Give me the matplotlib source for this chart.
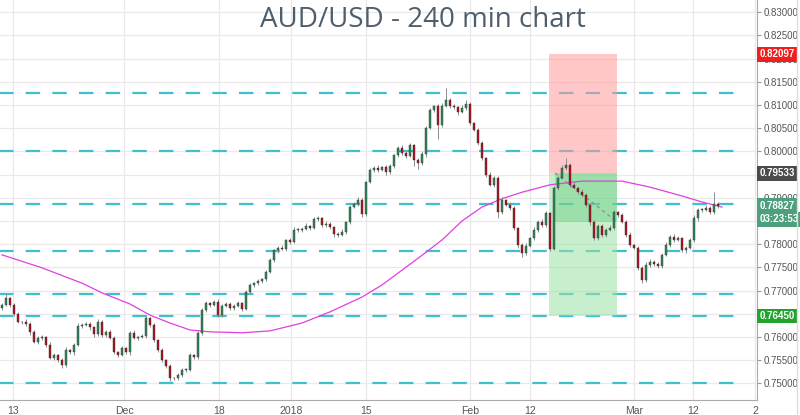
import matplotlib
matplotlib.use('Agg')
import matplotlib.pyplot as plt
import matplotlib.transforms as mtransforms
import numpy as np

# 4h AUD/USD bars (one entry per candle)
closes = [0.7669, 0.7684, 0.7669, 0.7649, 0.7632, 0.7632, 0.7628, 0.7611, 0.7589, 0.7598,
          0.7600, 0.7583, 0.7555, 0.7561, 0.7550, 0.7539, 0.7572, 0.7567, 0.7583, 0.7624,
          0.7626, 0.7628, 0.7621, 0.7606, 0.7632, 0.7604, 0.7611, 0.7598, 0.7567, 0.7561,
          0.7576, 0.7567, 0.7608, 0.7598, 0.7600, 0.7602, 0.7641, 0.7626, 0.7593, 0.7572,
          0.7550, 0.7537, 0.7511, 0.7511, 0.7518, 0.7529, 0.7529, 0.7561, 0.7557, 0.7608,
          0.7658, 0.7673, 0.7669, 0.7675, 0.7647, 0.7667, 0.7671, 0.7662, 0.7667, 0.7673,
          0.7660, 0.7697, 0.7712, 0.7716, 0.7721, 0.7725, 0.7740, 0.7766, 0.7787, 0.7792,
          0.7790, 0.7809, 0.7805, 0.7831, 0.7831, 0.7833, 0.7839, 0.7835, 0.7854, 0.7856,
          0.7841, 0.7844, 0.7837, 0.7822, 0.7820, 0.7826, 0.7848, 0.7880, 0.7887, 0.7895,
          0.7865, 0.7934, 0.7960, 0.7964, 0.7960, 0.7966, 0.7956, 0.7969, 0.7992, 0.8007,
          0.7997, 0.7990, 0.8014, 0.7982, 0.7975, 0.7994, 0.8051, 0.8089, 0.8098, 0.8057,
          0.8098, 0.8111, 0.8098, 0.8096, 0.8085, 0.8094, 0.8102, 0.8061, 0.8046, 0.8018,
          0.7986, 0.7949, 0.7928, 0.7943, 0.7869, 0.7895, 0.7885, 0.7878, 0.7835, 0.7798,
          0.7781, 0.7796, 0.7813, 0.7831, 0.7848, 0.7841, 0.7867, 0.7790, 0.7921, 0.7943,
          0.7964, 0.7971, 0.7928, 0.7921, 0.7913, 0.7906, 0.7885, 0.7848, 0.7813, 0.7839,
          0.7820, 0.7831, 0.7835, 0.7869, 0.7863, 0.7848, 0.7820, 0.7798, 0.7792, 0.7749,
          0.7723, 0.7755, 0.7762, 0.7757, 0.7753, 0.7777, 0.7798, 0.7815, 0.7809, 0.7813,
          0.7787, 0.7792, 0.7809, 0.7856, 0.7874, 0.7874, 0.7878, 0.7869, 0.7887, 0.7882]
first_open = 0.7662

# wick lengths in pips (0.0001)
wick_up = [4, 9, 3, 5, 4, 3, 6, 4, 5, 3,
           4, 3, 5, 4, 3, 4, 6, 3, 4, 5,
           3, 4, 5, 3, 6, 4, 3, 5, 4, 3,
           5, 3, 4, 6, 3, 4, 5, 3, 4, 3,
           4, 3, 5, 3, 4, 3, 5, 4, 3, 4,
           5, 4, 3, 5, 6, 3, 4, 5, 3, 4,
           3, 4, 5, 3, 4, 3, 4, 5, 3, 4,
           6, 3, 4, 5, 3, 4, 6, 3, 5, 4,
           3, 5, 4, 3, 4, 6, 3, 5, 4, 6,
           4, 3, 5, 4, 6, 3, 5, 4, 3, 5,
           6, 4, 5, 3, 4, 6, 4, 5, 3, 4,
           6, 25, 4, 5, 3, 6, 8, 4, 3, 5,
           4, 3, 6, 5, 4, 6, 3, 5, 4, 3,
           4, 6, 3, 5, 4, 6, 4, 3, 5, 4,
           6, 14, 4, 5, 3, 6, 4, 3, 5, 4,
           5, 3, 6, 4, 3, 5, 4, 6, 3, 4,
           4, 6, 5, 3, 4, 5, 6, 4, 8, 5,
           3, 5, 4, 6, 5, 4, 6, 5, 25, 4]
wick_dn = [4, 3, 5, 4, 3, 5, 4, 6, 3, 4,
           5, 4, 3, 5, 4, 5, 3, 4, 5, 3,
           4, 3, 5, 6, 3, 4, 5, 3, 4, 5,
           3, 4, 5, 3, 4, 3, 4, 5, 3, 4,
           5, 4, 6, 4, 3, 5, 4, 3, 5, 4,
           3, 4, 5, 3, 4, 5, 3, 4, 5, 3,
           4, 3, 5, 4, 3, 4, 5, 3, 4, 5,
           3, 4, 5, 3, 4, 5, 3, 4, 3, 5,
           4, 3, 5, 6, 4, 3, 5, 4, 3, 4,
           6, 4, 3, 5, 4, 3, 6, 4, 5, 3,
           4, 5, 3, 14, 12, 4, 5, 3, 4, 30,
           4, 3, 5, 4, 6, 3, 4, 5, 3, 4,
           5, 4, 3, 5, 12, 4, 3, 5, 4, 6,
           9, 4, 3, 5, 4, 3, 4, 5, 3, 4,
           3, 4, 5, 3, 4, 5, 4, 6, 5, 3,
           4, 5, 3, 4, 5, 3, 4, 5, 3, 4,
           7, 4, 5, 3, 4, 5, 3, 4, 5, 3,
           4, 5, 3, 4, 5, 4, 3, 5, 4, 3]

# moving average (magenta), sampled at bar positions
ma_bar = [0, 10, 20, 25, 32, 37, 42, 47, 52, 60, 67, 75, 82, 90, 95, 100, 105, 110,
          115, 120, 125, 130, 137, 145, 155, 162, 170, 175, 180]
ma_val = [0.7777, 0.7749, 0.7716, 0.7695, 0.7671, 0.7647, 0.7630, 0.7615, 0.7611, 0.7609,
          0.7613, 0.7630, 0.7654, 0.7686, 0.7712, 0.7744, 0.7776, 0.7809, 0.7850, 0.7880,
          0.7898, 0.7912, 0.7928, 0.7936, 0.7936, 0.7923, 0.7904, 0.7891, 0.7880]

levels = [0.8125, 0.8000, 0.7887, 0.7786, 0.7693, 0.7645, 0.7500]

x_tick_bars = [2.75, 30.5, 54.25, 72.25, 91, 117, 132, 158, 172.75, 188.25]
x_tick_labels = ['13', 'Dec', '18', '2018', '15', 'Feb', '12', 'Mar', '12', '2']

# long position tool
pos_start, pos_start2, pos_end = 136.75, 138.25, 153.75
stop_price = 0.82097
entry_price = 0.79533
target_price = 0.76450
trade_price = 0.7848

last_price = 0.78827

n = len(closes)
idx = np.arange(n)
opens = np.array([first_open] + closes[:-1])
closes_a = np.array(closes)
highs = np.maximum(opens, closes_a) + np.array(wick_up) * 1e-4
lows = np.minimum(opens, closes_a) - np.array(wick_dn) * 1e-4
up = closes_a >= opens

plt.rcParams['font.family'] = ['Liberation Sans', 'DejaVu Sans']

fig = plt.figure(figsize=(8, 4.15), dpi=100)
ax = fig.add_axes([0, 15 / 415, 757 / 800, 400 / 415])

ax.set_xlim(-0.5, 188.75)
ax.set_ylim(0.7464, 0.83265)

yt = np.arange(0.750, 0.8301, 0.005)
ax.set_yticks(yt)
ax.set_yticklabels(['%.5f' % v for v in yt])
ax.yaxis.tick_right()
ax.set_xticks(x_tick_bars)
ax.set_xticklabels(x_tick_labels)
ax.tick_params(axis='y', colors='#999999', labelcolor='#555555', labelsize=7, length=3, pad=2)
ax.tick_params(axis='x', colors='#999999', labelcolor='#555555', labelsize=7.5, length=0, pad=4)
ax.grid(True, color='#e9e9e9', lw=0.9, zorder=0)
ax.set_axisbelow(True)
for s in ['top', 'left']:
    ax.spines[s].set_visible(False)
ax.spines['right'].set_color('#aaaaaa')
ax.spines['bottom'].set_color('#aaaaaa')

# support / resistance levels
for lv in levels:
    ax.plot([-2.75, 185.75], [lv, lv], color='#3fbfd0', lw=1.6,
            linestyle=(0, (6.5, 5.5)), zorder=1, solid_capstyle='butt')

# position boxes
ax.fill_between([pos_start, pos_end], entry_price, stop_price, color='#ff9a9a', alpha=0.55, lw=0, zorder=2)
ax.fill_between([pos_start, pos_end], target_price, entry_price, color='#9be3a4', alpha=0.55, lw=0, zorder=2)
ax.fill_between([pos_start2, pos_end], trade_price, entry_price, color='#4cc36a', alpha=0.35, lw=0, zorder=2)
ax.plot([pos_start2, pos_end], [entry_price, trade_price], color='#888888', lw=0.8,
        linestyle=(0, (3, 3)), zorder=2.5)

# moving average
ax.plot(ma_bar, ma_val, color='#e040e0', lw=0.9, zorder=3)

# candles
ax.vlines(idx, lows, highs, color='#8c8c8c', lw=0.7, zorder=4)
body_lo = np.minimum(opens, closes_a)
body_h = np.maximum(np.abs(closes_a - opens), 0.00008)
colors = np.where(up, '#2f8a5c', '#b2121c')
ax.bar(idx, body_h, bottom=body_lo, width=0.55, color=colors, edgecolor='#303030',
       linewidth=0.3, zorder=5)

# price labels on the right scale
trans = mtransforms.blended_transform_factory(ax.transAxes, ax.transData)
def price_box(y, txt, fc):
    ax.text(1.003, y, txt, transform=trans, ha='left', va='center', fontsize=7,
            fontweight='bold', color='white', clip_on=False, zorder=20,
            bbox=dict(boxstyle='square,pad=0.25', fc=fc, ec='none'))

price_box(stop_price, '%.5f' % stop_price, '#f01e1e')
price_box(entry_price, '%.5f' % entry_price, '#4b4b4b')
price_box(last_price, '%.5f' % last_price, '#4e9f7e')
price_box(last_price - 0.0029, '03:23:53', '#4e9f7e')
price_box(target_price, '%.5f' % target_price, '#23a32e')

fig.text(0.529, 0.951, 'AUD/USD - 240 min chart', ha='center', va='center',
         fontsize=20, color='#4f5e6d', family='Open Sans')
fig.add_artist(plt.Line2D([797 / 800, 797 / 800], [0, 1], color='#dddddd', lw=1))

plt.savefig('out.png', dpi=100)
